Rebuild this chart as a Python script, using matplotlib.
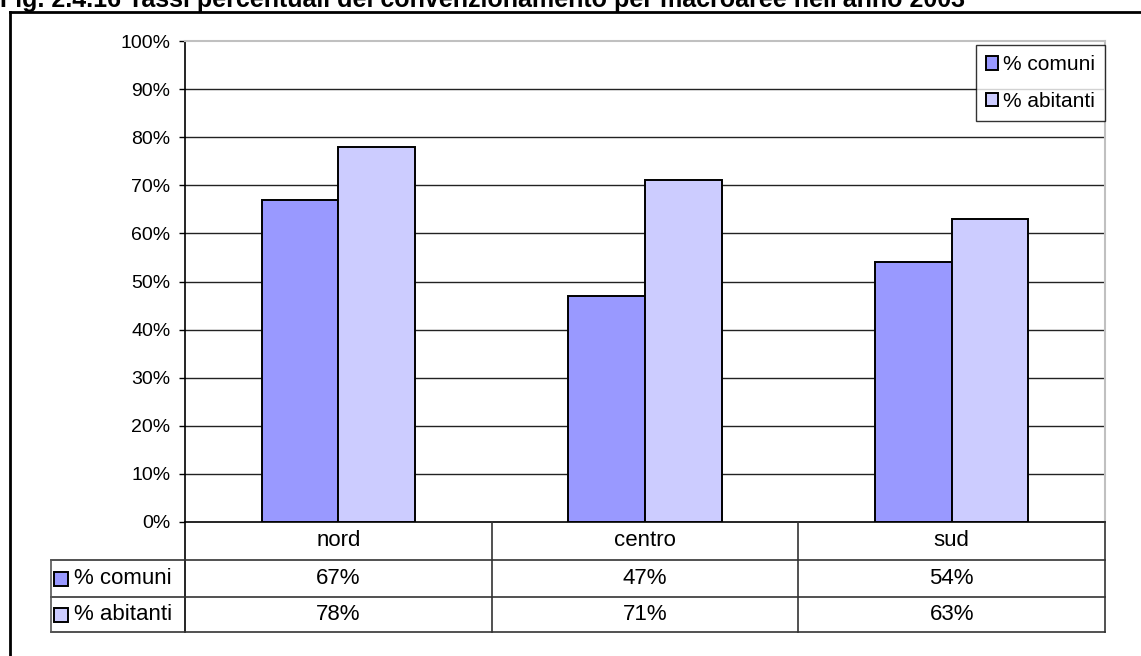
import matplotlib.pyplot as plt
from matplotlib.patches import Rectangle
from matplotlib.lines import Line2D
import numpy as np

plt.rcParams['font.family'] = ['Liberation Sans', 'DejaVu Sans']

# Dati
categorie = ['nord', 'centro', 'sud']
serie = ['% comuni', '% abitanti']
comuni = [67, 47, 54]
abitanti = [78, 71, 63]
colori = ['#9999FF', '#CCCCFF']
yticks = np.arange(0, 101, 10)

W, H = 1141, 656
fig = plt.figure(figsize=(W / 100, H / 100), dpi=100)


def fx(px):
    return px / W


def fy(py):
    return 1 - py / H


# Area del grafico (coordinate in pixel)
x0, x1 = 185, 1105
y_top, y_bot = 41, 522
ax = fig.add_axes([fx(x0), fy(y_bot), fx(x1) - fx(x0), (y_bot - y_top) / H])

x = np.arange(len(categorie))
bw = 0.25
ax.bar(x - bw / 2, comuni, bw, color=colori[0], edgecolor='black', linewidth=1.4, zorder=3)
ax.bar(x + bw / 2, abitanti, bw, color=colori[1], edgecolor='black', linewidth=1.4, zorder=3)

ax.set_xlim(-0.5, len(categorie) - 0.5)
ax.set_ylim(0, 100)
ax.set_yticks(yticks)
ax.set_yticklabels([f'{v}%' for v in yticks], fontsize=14)
ax.tick_params(axis='y', length=4.5, width=1, pad=6, direction='out')
ax.set_xticks([])
for v in yticks[1:-1]:
    ax.axhline(v, color='#222222', linewidth=1.0, zorder=1)
ax.spines['left'].set_linewidth(1.2)
ax.spines['bottom'].set_linewidth(1.2)
ax.spines['top'].set_color('#c0c0c0')
ax.spines['top'].set_linewidth(1.5)
ax.spines['right'].set_color('#c0c0c0')
ax.spines['right'].set_linewidth(1.5)

# Legenda
handles = [Rectangle((0, 0), 1, 1, facecolor=c, edgecolor='black', linewidth=1.4) for c in colori]
leg = ax.legend(handles, serie, loc='upper right', bbox_to_anchor=(1.0, 0.992),
                fontsize=15, frameon=True, fancybox=False, handlelength=0.6,
                handleheight=0.6, handletextpad=0.2, labelspacing=0.85,
                borderpad=0.5, borderaxespad=0.0)
leg.get_frame().set_edgecolor('black')
leg.get_frame().set_linewidth(1.0)

# Tabella dati sotto il grafico
righe = [560, 597, 632]
leg_x = 51
col_w = (x1 - x0) / len(categorie)
lw = 1.2
fig.add_artist(Line2D([fx(x0), fx(x0)], [fy(y_bot), fy(righe[-1])], color='black', lw=lw))
for i in range(1, len(categorie) + 1):
    xc = x0 + i * col_w
    fig.add_artist(Line2D([fx(xc), fx(xc)], [fy(y_bot), fy(righe[-1])], color='#333333', lw=lw))
for r in righe:
    fig.add_artist(Line2D([fx(leg_x), fx(x1)], [fy(r), fy(r)], color='#333333', lw=lw))
fig.add_artist(Line2D([fx(leg_x), fx(leg_x)], [fy(righe[0]), fy(righe[-1])], color='#555555', lw=lw))

for i, cat in enumerate(categorie):
    xc = x0 + (i + 0.5) * col_w
    fig.text(fx(xc), fy((y_bot + righe[0]) / 2), cat, ha='center', va='center', fontsize=16)
    for j, vals in enumerate([comuni, abitanti]):
        fig.text(fx(xc), fy((righe[j] + righe[j + 1]) / 2), f'{vals[i]}%',
                 ha='center', va='center', fontsize=16)

for j, nome in enumerate(serie):
    yc = (righe[j] + righe[j + 1]) / 2
    fig.add_artist(Rectangle((fx(54), fy(yc + 7)), 14 / W, 14 / H, facecolor=colori[j],
                             edgecolor='black', linewidth=1.4, transform=fig.transFigure))
    fig.text(fx(74), fy(yc), nome, ha='left', va='center', fontsize=16)

# Cornice esterna e titolo
fig.add_artist(Line2D([fx(10), 1.0], [fy(12), fy(12)], color='black', lw=2))
fig.add_artist(Line2D([fx(10), fx(10)], [fy(12), 0.0], color='black', lw=2))
fig.text(0.0, fy(7), "Fig. 2.4.16 Tassi percentuali del convenzionamento per macroaree nell'anno 2003",
         ha='left', va='baseline', fontsize=18, fontweight='bold')

fig.savefig('out.png', dpi=100)
